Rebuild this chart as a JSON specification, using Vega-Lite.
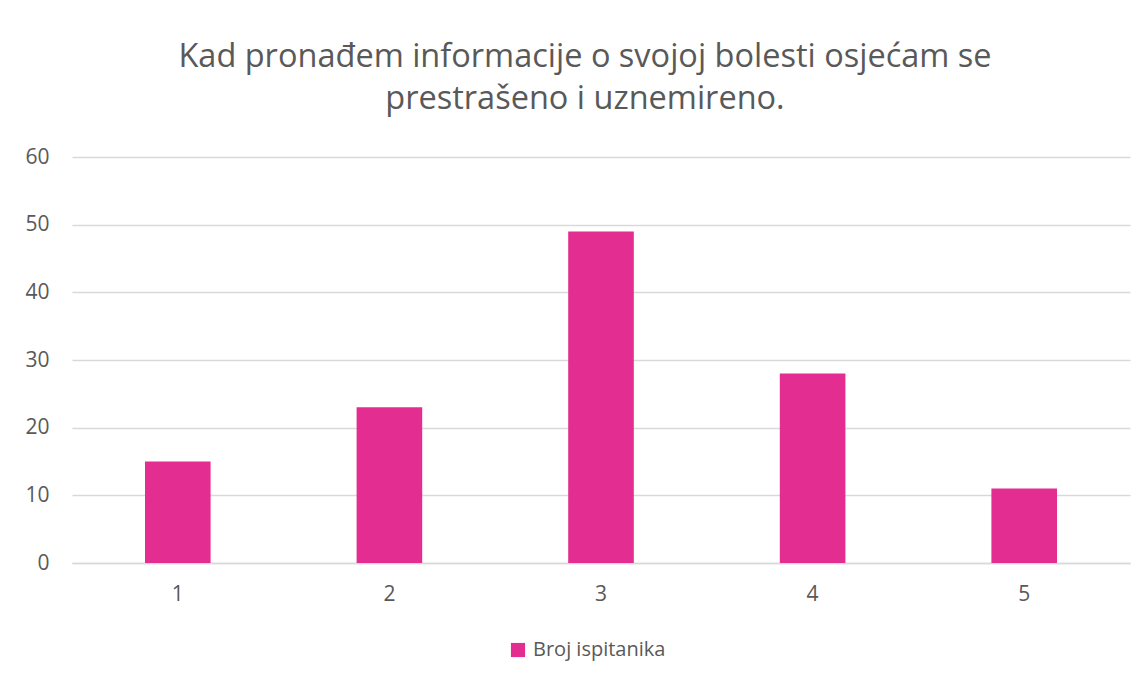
{
  "$schema": "https://vega.github.io/schema/vega-lite/v6.json",
  "autosize": "none",
  "width": 1058,
  "height": 406,
  "padding": {"left": 72, "top": 157, "right": 16, "bottom": 116},
  "background": "white",
  "title": {
    "text": ["Kad pronađem informacije o svojoj bolesti osjećam se", "prestrašeno i uznemireno."],
    "font": "Open Sans",
    "fontSize": 32.5,
    "fontWeight": "normal",
    "color": "#595959",
    "anchor": "middle",
    "lineHeight": 42,
    "offset": 31,
    "dx": -16
  },
  "data": {
    "values": [
      {"kategorija": "1", "serija": "Broj ispitanika", "vrijednost": 15},
      {"kategorija": "2", "serija": "Broj ispitanika", "vrijednost": 23},
      {"kategorija": "3", "serija": "Broj ispitanika", "vrijednost": 49},
      {"kategorija": "4", "serija": "Broj ispitanika", "vrijednost": 28},
      {"kategorija": "5", "serija": "Broj ispitanika", "vrijednost": 11}
    ]
  },
  "mark": {"type": "bar"},
  "encoding": {
    "x": {
      "field": "kategorija",
      "type": "ordinal",
      "scale": {"paddingInner": 0.69, "paddingOuter": 0.345},
      "axis": {
        "title": null,
        "labelAngle": 0,
        "labelFont": "Open Sans",
        "labelFontSize": 21,
        "labelColor": "#595959",
        "labelPadding": 20,
        "ticks": false,
        "domain": true,
        "domainColor": "#d9d9d9",
        "domainWidth": 1.5
      }
    },
    "y": {
      "field": "vrijednost",
      "type": "quantitative",
      "scale": {"domain": [0, 60]},
      "axis": {
        "title": null,
        "values": [0, 10, 20, 30, 40, 50, 60],
        "labelFont": "Open Sans",
        "labelFontSize": 21,
        "labelColor": "#595959",
        "labelPadding": 23,
        "ticks": false,
        "domain": false,
        "grid": true,
        "gridColor": "#d9d9d9",
        "gridWidth": 1.5
      }
    },
    "color": {
      "field": "serija",
      "type": "nominal",
      "scale": {"range": ["#e32d91"]},
      "legend": {
        "title": null,
        "orient": "none",
        "legendX": 436,
        "legendY": 483,
        "direction": "horizontal",
        "symbolType": "square",
        "symbolSize": 200,
        "symbolStrokeWidth": 0,
        "labelFont": "Open Sans",
        "labelFontSize": 20,
        "labelColor": "#595959",
        "labelOffset": 5
      }
    }
  },
  "config": {
    "view": {"stroke": null}
  }
}
